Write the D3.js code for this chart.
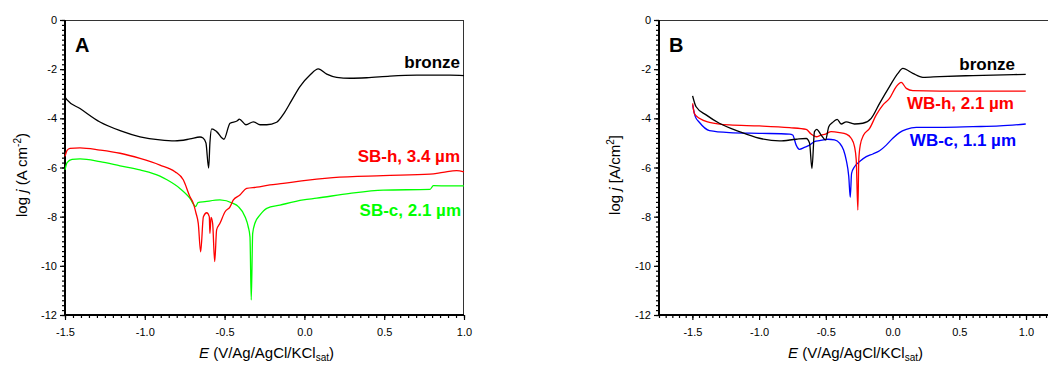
<!DOCTYPE html>
<html>
<head>
<meta charset="utf-8">
<script src="https://cdn.jsdelivr.net/npm/d3@7"></script>
<style>
  body { margin: 0; background: #fff; }
  svg { display: block; font-family: "Liberation Sans", Arial, sans-serif; }
</style>
</head>
<body>
<div id="app"></div>
<script>
// polarisation curves, [E (V), log j]
// panel A
const bronzeA = [
  [-1.5, -3.13], [-1.487, -3.25], [-1.406, -3.6], [-1.281, -4.15], [-1.155, -4.5],
  [-1.03, -4.75], [-0.905, -4.88], [-0.811, -4.92], [-0.717, -4.84], [-0.654, -4.76],
  [-0.635, -4.8], [-0.617, -5.0], [-0.6, -6.02], [-0.592, -5.0], [-0.581, -4.43],
  [-0.55, -4.54], [-0.504, -4.85], [-0.466, -4.2], [-0.42, -4.1], [-0.408, -4.03],
  [-0.366, -4.26], [-0.32, -4.14], [-0.278, -4.26], [-0.236, -4.26], [-0.174, -4.16],
  [-0.128, -3.8], [-0.078, -3.25], [-0.028, -2.71], [0.035, -2.24], [0.087, -1.99],
  [0.14, -2.2], [0.202, -2.33], [0.286, -2.37], [0.39, -2.35], [0.536, -2.28],
  [0.704, -2.24], [0.912, -2.24], [1.0, -2.26]
];
const sbHot = [
  [-1.5, -5.55], [-1.487, -5.3], [-1.469, -5.22], [-1.406, -5.2], [-1.281, -5.29],
  [-1.155, -5.42], [-1.03, -5.63], [-0.905, -5.9], [-0.811, -6.17], [-0.759, -6.5],
  [-0.717, -7.19], [-0.696, -7.46], [-0.679, -7.86], [-0.665, -8.27], [-0.65, -9.43],
  [-0.633, -8.0], [-0.612, -7.84], [-0.596, -8.0], [-0.592, -8.68], [-0.585, -8.03],
  [-0.575, -8.27], [-0.562, -9.83], [-0.55, -8.54], [-0.529, -8.27], [-0.497, -7.8],
  [-0.466, -7.6], [-0.445, -7.32], [-0.404, -7.12], [-0.362, -6.85], [-0.299, -6.8],
  [-0.216, -6.71], [-0.132, -6.65], [-0.017, -6.54], [0.179, -6.41], [0.492, -6.33],
  [0.787, -6.27], [0.868, -6.2], [0.954, -6.13], [1.0, -6.18]
];
const sbCold = [
  [-1.5, -6.1], [-1.487, -5.8], [-1.456, -5.67], [-1.406, -5.65], [-1.281, -5.76],
  [-1.155, -5.93], [-1.03, -6.1], [-0.905, -6.35], [-0.861, -6.5], [-0.78, -6.85],
  [-0.717, -7.25], [-0.681, -7.59], [-0.667, -7.43], [-0.623, -7.39], [-0.529, -7.32],
  [-0.447, -7.46], [-0.414, -7.59], [-0.372, -8.0], [-0.352, -8.41], [-0.341, -8.82],
  [-0.333, -11.39], [-0.324, -8.68], [-0.31, -8.27], [-0.278, -7.93], [-0.236, -7.66],
  [-0.153, -7.53], [-0.007, -7.32], [0.077, -7.25], [0.286, -7.05], [0.494, -6.92],
  [0.787, -6.89], [0.808, -6.74], [0.912, -6.75], [1.0, -6.75]
];

// panel B
const bronzeB = [
  [-1.498, -3.09], [-1.472, -3.53], [-1.397, -3.86], [-1.298, -4.2], [-1.148, -4.54],
  [-0.998, -4.81], [-0.847, -4.92], [-0.722, -4.85], [-0.647, -4.82], [-0.622, -5.0],
  [-0.604, -6.04], [-0.585, -4.54], [-0.568, -4.45], [-0.535, -4.68], [-0.502, -4.88],
  [-0.478, -4.34], [-0.452, -4.18], [-0.415, -4.04], [-0.385, -4.23], [-0.347, -4.14],
  [-0.285, -4.23], [-0.223, -4.2], [-0.16, -4.0], [-0.097, -3.39], [-0.023, -2.71],
  [0.04, -2.17], [0.077, -1.97], [0.152, -2.17], [0.227, -2.33], [0.353, -2.3],
  [0.602, -2.26], [0.998, -2.21]
];
const wbHot = [
  [-1.498, -3.39], [-1.485, -3.8], [-1.448, -4.0], [-1.372, -4.16], [-1.222, -4.27],
  [-0.998, -4.31], [-0.772, -4.38], [-0.647, -4.45], [-0.61, -4.64], [-0.572, -4.75],
  [-0.535, -4.68], [-0.502, -4.64], [-0.46, -4.54], [-0.397, -4.58], [-0.347, -4.64],
  [-0.31, -4.81], [-0.285, -5.15], [-0.272, -5.7], [-0.26, -7.73], [-0.253, -5.7],
  [-0.242, -5.09], [-0.217, -4.68], [-0.172, -4.41], [-0.122, -3.86], [-0.073, -3.46],
  [-0.023, -3.19], [0.028, -2.71], [0.065, -2.54], [0.103, -2.78], [0.152, -2.87],
  [0.353, -2.89], [0.998, -2.89]
];
const wbCold = [
  [-1.498, -3.46], [-1.478, -3.93], [-1.448, -4.16], [-1.372, -4.5], [-1.222, -4.58],
  [-0.998, -4.61], [-0.772, -4.64], [-0.748, -4.68], [-0.722, -5.09], [-0.698, -5.26],
  [-0.66, -5.18], [-0.622, -5.09], [-0.585, -4.95], [-0.547, -4.91], [-0.485, -4.85],
  [-0.435, -4.88], [-0.397, -5.01], [-0.367, -5.29], [-0.347, -5.7], [-0.328, -6.37],
  [-0.317, -7.21], [-0.307, -6.24], [-0.285, -5.97], [-0.247, -5.76], [-0.197, -5.56],
  [-0.148, -5.45], [-0.097, -5.32], [-0.047, -5.09], [0.002, -4.81], [0.052, -4.58],
  [0.103, -4.45], [0.178, -4.37], [0.353, -4.37], [0.602, -4.34], [0.803, -4.31],
  [0.998, -4.23]
];

const xTicksA = [-1.5, -1.0, -0.5, 0.0, 0.5, 1.0];
const xTicksB = [-1.5, -1.0, -0.5, 0.0, 0.5, 1.0];
const yTicks = [0, -2, -4, -6, -8, -10, -12];

const width = 1048;
const height = 365;

const svg = d3
  .select("#app")
  .append("svg")
  .attr("width", width)
  .attr("height", height)
  .attr("viewBox", [0, 0, width, height]);

svg.append("rect").attr("width", width).attr("height", height).attr("fill", "#fff");

function drawPanel(p) {
  const x = d3.scaleLinear().domain(p.xDomain).range([p.left, p.right]);
  const y = d3.scaleLinear().domain([-12, 0]).range([p.bottom, p.top]);
  const g = svg.append("g");

  // frame: thin top/right, heavy left/bottom
  g.append("line")
    .attr("x1", p.left).attr("x2", p.right)
    .attr("y1", p.top + 0.5).attr("y2", p.top + 0.5)
    .attr("stroke", "#333").attr("stroke-width", 1);
  g.append("line")
    .attr("x1", p.right - 0.5).attr("x2", p.right - 0.5)
    .attr("y1", p.top).attr("y2", p.bottom)
    .attr("stroke", "#333").attr("stroke-width", 1);

  const xMinor = d3.range(-40, 30).map((i) => i * 0.05)
    .filter((v) => v >= p.xDomain[0] - 1e-9 && v <= p.xDomain[1] + 1e-9);
  const yMinor = d3.range(-60, 1).map((i) => i * 0.2);

  const xAxisMinor = g.append("g")
    .attr("transform", `translate(0,${p.bottom})`)
    .call(d3.axisBottom(x).tickValues(xMinor).tickSize(3).tickFormat(""));
  const xAxis = g.append("g")
    .attr("transform", `translate(0,${p.bottom})`)
    .call(d3.axisBottom(x).tickValues(p.xTicks).tickSize(5).tickPadding(8)
      .tickFormat((d) => d.toFixed(1)));
  const yAxisMinor = g.append("g")
    .attr("transform", `translate(${p.left},0)`)
    .call(d3.axisLeft(y).tickValues(yMinor).tickSize(3).tickFormat(""));
  const yAxis = g.append("g")
    .attr("transform", `translate(${p.left},0)`)
    .call(d3.axisLeft(y).tickValues(yTicks).tickSize(5).tickPadding(3)
      .tickFormat((d) => d3.format("d")(d).replace("\u2212", "-")));

  [xAxisMinor, xAxis, yAxisMinor, yAxis].forEach((a) => {
    a.select(".domain").remove();
    a.selectAll("line").attr("stroke", "#000").attr("stroke-width", 1.2);
    a.selectAll("text")
      .attr("fill", "#000")
      .style("font-family", '"Liberation Sans", Arial, sans-serif')
      .style("font-size", "11px");
  });

  g.append("line")
    .attr("x1", p.left).attr("x2", p.right)
    .attr("y1", p.bottom).attr("y2", p.bottom)
    .attr("stroke", "#000").attr("stroke-width", 2);
  g.append("line")
    .attr("x1", p.left).attr("x2", p.left)
    .attr("y1", p.top).attr("y2", p.bottom + 1)
    .attr("stroke", "#000").attr("stroke-width", 2);

  const line = d3.line()
    .x((d) => x(d[0]))
    .y((d) => y(d[1]))
    .curve(d3.curveMonotoneX);

  p.series.forEach((s) => {
    g.append("path")
      .datum(s.data)
      .attr("fill", "none")
      .attr("stroke", s.color)
      .attr("stroke-width", 1.3)
      .attr("stroke-linejoin", "round")
      .attr("d", line);
  });

  p.series.forEach((s) => {
    g.append("text")
      .attr("x", s.lx).attr("y", s.ly)
      .attr("text-anchor", "end")
      .attr("font-weight", "bold")
      .attr("font-size", 17)
      .attr("fill", s.color)
      .text(s.label);
  });

  g.append("text")
    .attr("x", p.left + 10).attr("y", 52)
    .attr("font-weight", "bold")
    .attr("font-size", 20)
    .text(p.name);

  // y title
  const yt = g.append("text")
    .attr("transform", `translate(${p.yTitleX},${175}) rotate(-90)`)
    .attr("text-anchor", "middle")
    .attr("font-size", 15);
  yt.append("tspan").text("log ");
  yt.append("tspan").attr("font-style", "italic").text("j");
  yt.append("tspan").text(p.yUnit[0]);
  yt.append("tspan").attr("font-size", 10).attr("dy", -6).text(p.yUnit[1]);
  yt.append("tspan").attr("dy", 6).text(p.yUnit[2]);

  // x title
  const xt = g.append("text")
    .attr("x", (p.left + Math.min(p.right, width)) / 2 + 2)
    .attr("y", p.xTitleY)
    .attr("text-anchor", "middle")
    .attr("font-size", 15);
  xt.append("tspan").attr("font-style", "italic").text("E");
  xt.append("tspan").text(" (V/Ag/AgCl/KCl");
  xt.append("tspan").attr("font-size", 10).attr("dy", 3).text("sat");
  xt.append("tspan").attr("dy", -3).text(")");
}

drawPanel({
  name: "A",
  left: 65, right: 464, top: 20, bottom: 315,
  xDomain: [-1.5, 1.0],
  xTicks: xTicksA,
  yTitleX: 27, xTitleY: 358,
  yUnit: [" (A cm", "-2", ")"],
  series: [
    { data: sbCold, color: "#00ff00", label: "SB-c, 2.1 \u00b5m", lx: 461, ly: 216 },
    { data: sbHot, color: "#ff0000", label: "SB-h, 3.4 \u00b5m", lx: 460, ly: 162 },
    { data: bronzeA, color: "#000000", label: "bronze", lx: 460, ly: 68 }
  ]
});

drawPanel({
  name: "B",
  left: 659, right: 1052.7, top: 20, bottom: 315,
  xDomain: [-1.75, 1.2],
  xTicks: xTicksB,
  yTitleX: 620, xTitleY: 358,
  yUnit: [" [A/cm", "2", "]"],
  series: [
    { data: wbCold, color: "#0000ff", label: "WB-c, 1.1 \u00b5m", lx: 1016, ly: 146 },
    { data: wbHot, color: "#ff0000", label: "WB-h, 2.1 \u00b5m", lx: 1014, ly: 109 },
    { data: bronzeB, color: "#000000", label: "bronze", lx: 1015, ly: 70 }
  ]
});
</script>
</body>
</html>
